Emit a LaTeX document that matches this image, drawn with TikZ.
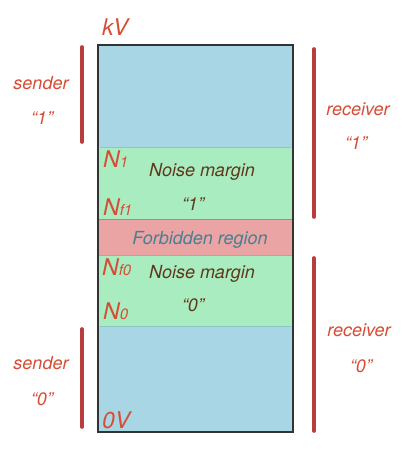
\documentclass[tikz,border=0pt]{standalone}
\usepackage{fontspec}
\setmainfont{TeX Gyre Heros}
\usepackage{xcolor}
\usepackage{tikz}

\definecolor{bandblue}{RGB}{168,214,228}
\definecolor{bandgreen}{RGB}{168,236,192}
\definecolor{bandred}{RGB}{234,164,164}
\definecolor{barred}{RGB}{184,62,62}
\definecolor{labred}{RGB}{214,76,52}
\definecolor{textbrown}{RGB}{96,56,28}
\definecolor{textteal}{RGB}{70,128,146}

\begin{document}
\begin{tikzpicture}[x=1pt,y=-1pt,
  bar/.style={line width=3.6pt, barred, line cap=round},
  sidetext/.style={font=\fontsize{18}{18}\selectfont\itshape, text=labred, anchor=base, inner sep=0pt},
  level/.style={font=\fontsize{23}{23}\selectfont\itshape, text=labred, anchor=base west, inner sep=0pt},
  inside/.style={font=\fontsize{18}{18}\selectfont\itshape, text=textbrown, anchor=base, inner sep=0pt}]

\useasboundingbox (0,0) rectangle (416,450);

%% bands

\fill[bandblue] (98,45) rectangle (293,147);
\fill[bandgreen] (98,147) rectangle (293,219);
\fill[bandred] (98,219) rectangle (293,255);
\fill[bandgreen] (98,255) rectangle (293,326);
\fill[bandblue] (98,326) rectangle (293,432);

%% band borders
\draw[line width=.6pt, teal!45] (100,147) -- (291,147);
\draw[line width=.8pt, barred!70] (98,219) -- (293,219);
\draw[line width=.8pt, barred!55] (98,255) -- (293,255);
\draw[line width=.6pt, teal!45] (100,326) -- (291,326);
\draw[line width=1.6pt, black!80] (98,45) rectangle (293,432);

%% voltage levels

\node[level] (kv) at (102,35) {kV};
\node[level] (n1) at (103,167) {N{\fontsize{15}{15}\selectfont 1}};
\node[level] (nf1) at (103,215) {N{\fontsize{15}{15}\selectfont f1}};
\node[level] (nf0) at (102,275) {N{\fontsize{15}{15}\selectfont f0}};
\node[level] (n0) at (103,319) {N{\fontsize{15}{15}\selectfont 0}};
\node[level] (zv) at (102,428) {0V};

%% region texts

\node[inside] (nm1) at (202,176) {Noise margin};
\node[inside] (one) at (193,210) {“1”};
\node[inside, text=textteal] (forb) at (200,244) {Forbidden region};
\node[inside] (nm0) at (202,278) {Noise margin};
\node[inside] (zero) at (193,311) {“0”};

%% sender / receiver

\node[sidetext] (s1) at (41,89) {sender};
\node[sidetext] (s1v) at (42,124) {“1”};
\node[sidetext] (s0) at (41,369) {sender};
\node[sidetext] (s0v) at (42,405) {“0”};
\node[sidetext] (r1) at (358,115) {receiver};
\node[sidetext] (r1v) at (356,149) {“1”};
\node[sidetext] (r0) at (359,336) {receiver};
\node[sidetext] (r0v) at (361,372) {“0”};

%% bars

\coordinate (s1top) at (82,47);
\coordinate (s1bot) at (82,142);
\coordinate (s0top) at (82,329);
\coordinate (s0bot) at (82,427);
\coordinate (r1top) at (314,49);
\coordinate (r1bot) at (314,217);
\coordinate (r0top) at (314,258);
\coordinate (r0bot) at (314,431);

\draw[bar] (s1top) -- (s1bot);
\draw[bar] (s0top) -- (s0bot);
\draw[bar] (r1top) -- (r1bot);
\draw[bar] (r0top) -- (r0bot);

\end{tikzpicture}
\end{document}
